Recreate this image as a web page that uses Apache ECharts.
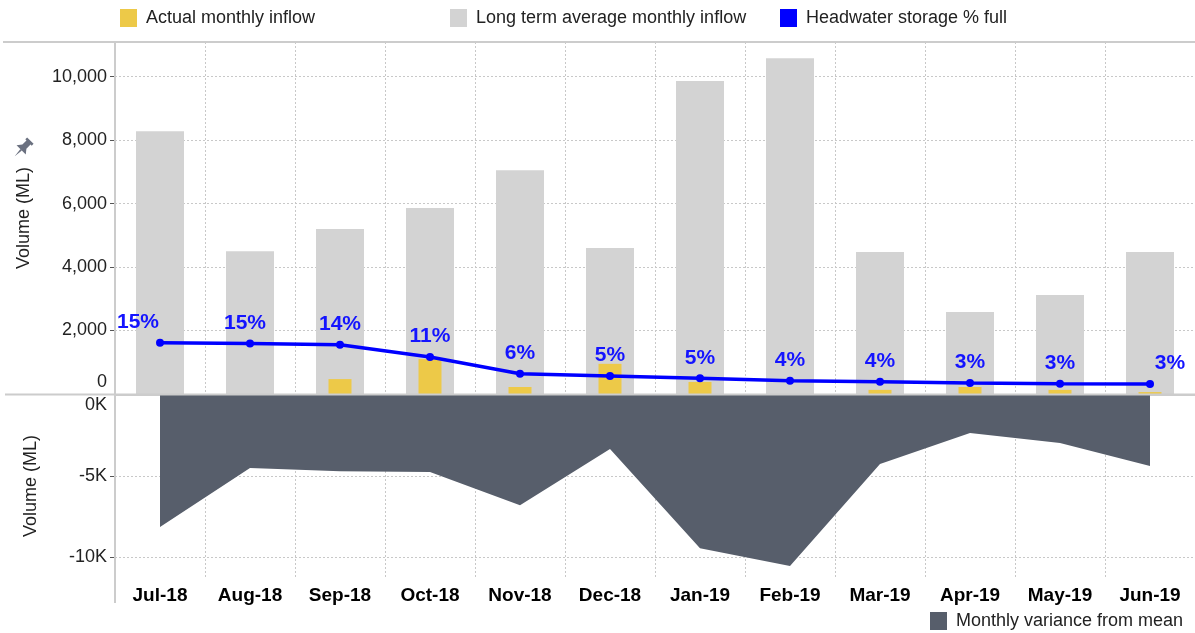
<!DOCTYPE html>
<html>
<head>
<meta charset="utf-8">
<script src="https://cdn.jsdelivr.net/npm/echarts@6/dist/echarts.min.js"></script>
<style>
  html, body { margin: 0; padding: 0; background: #fff; }
  #chart { width: 1195px; height: 633px; }
</style>
</head>
<body>
<div id="chart"></div>
<script>
// months shown on the x axis
const categories = ['Jul-18', 'Aug-18', 'Sep-18', 'Oct-18', 'Nov-18', 'Dec-18',
  'Jan-19', 'Feb-19', 'Mar-19', 'Apr-19', 'May-19', 'Jun-19'];
// ML
const actualInflow = [0, 0, 470, 1100, 220, 950, 380, 0, 130, 220, 130, 60];
const longTermAvg = [8280, 4500, 5200, 5860, 7050, 4600, 9860, 10580, 4470, 2580, 3120, 4470];
const variance = [-8150, -4500, -4700, -4750, -6800, -3330, -9450, -10550, -4260, -2350, -2960, -4380];
// headwater storage, % full
const storagePct = [15.0, 14.8, 14.4, 10.8, 5.9, 5.3, 4.6, 3.9, 3.6, 3.2, 3.0, 2.9];
// tick labels
const volumeTicks = [0, 2000, 4000, 6000, 8000, 10000];
const varianceTicks = [0, -5000, -10000];

const FONT = 'Arial, "Liberation Sans", sans-serif';
const GRID_LINE = { color: '#c8c8c8', type: [2, 2], width: 1 };
const FRAME = '#cccccc';
const TXT = '#222';

let chart = echarts.init(document.getElementById('chart'));

const legendBase = {
  icon: 'rect', itemWidth: 17, itemHeight: 18, itemGap: 0, padding: 0,
  textStyle: { fontSize: 18, color: TXT, fontFamily: FONT, padding: [0, 0, 0, 4] }
};

chart.setOption({
  animation: false,
  textStyle: { fontFamily: FONT },
  grid: [
    { left: 115, right: 0, top: 42, height: 352 },
    { left: 115, right: 0, top: 395, height: 182 }
  ],
  legend: [
    Object.assign({ data: ['Actual monthly inflow'], left: 120, top: 9 }, legendBase),
    Object.assign({ data: ['Long term average monthly inflow'], left: 450, top: 9 }, legendBase),
    Object.assign({ data: ['Headwater storage % full'], left: 780, top: 9 }, legendBase),
    Object.assign({ data: ['Monthly variance from mean'], left: 930, top: 612 }, legendBase)
  ],
  xAxis: [
    {
      gridIndex: 0, type: 'category', data: categories,
      axisLine: { show: false }, axisTick: { show: false }, axisLabel: { show: false },
      splitLine: { show: true, lineStyle: GRID_LINE }
    },
    { gridIndex: 0, type: 'category', data: categories, show: false },
    {
      gridIndex: 1, type: 'category', data: categories, position: 'bottom',
      axisLine: { lineStyle: { color: FRAME, width: 2 } },
      axisTick: { length: 7, lineStyle: { color: '#bbb', type: [2, 2] } },
      axisLabel: { color: '#000', fontWeight: 'bold', fontSize: 19, margin: 9 },
      splitLine: { show: true, lineStyle: GRID_LINE }
    }
  ],
  yAxis: [
    {
      gridIndex: 0, type: 'value', min: 0, max: 11090,
      name: 'Volume (ML)', nameLocation: 'middle', nameGap: 82,
      nameTextStyle: { fontSize: 18, color: TXT },
      axisLine: { show: false },
      axisTick: { show: true, length: 5, customValues: volumeTicks.slice(1), lineStyle: { color: '#555' } },
      axisLabel: {
        customValues: volumeTicks, fontSize: 18, color: TXT, margin: 8,
        formatter: (v) => v === 0 ? '{z|0}' : v.toLocaleString('en-US'),
        rich: { z: { fontSize: 18, color: TXT, padding: [0, 0, 24, 0] } }
      },
      splitLine: { show: true, lineStyle: GRID_LINE }
    },
    { gridIndex: 0, type: 'value', min: 0, max: 103, show: false },
    {
      gridIndex: 1, type: 'value', min: -11230, max: 0,
      name: 'Volume (ML)', nameLocation: 'middle', nameGap: 75,
      nameTextStyle: { fontSize: 18, color: TXT },
      axisLine: { show: false },
      axisTick: { show: true, length: 5, customValues: varianceTicks.slice(1), lineStyle: { color: '#555' } },
      axisLabel: {
        customValues: varianceTicks, fontSize: 18, color: TXT, margin: 8,
        formatter: (v) => v === 0 ? '{z|0K}' : (v / 1000) + 'K',
        rich: { z: { fontSize: 18, color: TXT, padding: [20, 0, 0, 0] } }
      },
      splitLine: { show: true, lineStyle: GRID_LINE }
    }
  ],
  graphic: [
    { type: 'line', z: 100, shape: { x1: 3, y1: 42, x2: 1195, y2: 42 }, style: { stroke: FRAME, lineWidth: 2 } },
    { type: 'line', z: 100, shape: { x1: 5, y1: 394.5, x2: 1195, y2: 394.5 }, style: { stroke: FRAME, lineWidth: 2 } },
    { type: 'line', z: 100, shape: { x1: 115, y1: 42, x2: 115, y2: 603 }, style: { stroke: FRAME, lineWidth: 2 } },
    // pin icon next to the axis title
    {
      type: 'group', x: 23, y: 148, rotation: -Math.PI / 4, scaleX: 1.3, scaleY: 1.3,
      children: [
        {
          type: 'polygon',
          shape: { points: [[-3.5, -8], [3.5, -8], [3.5, -6], [2.2, -6], [2.2, -1.5], [5, 2], [-5, 2], [-2.2, -1.5], [-2.2, -6], [-3.5, -6]] },
          style: { fill: '#6b7180' }
        },
        { type: 'polygon', shape: { points: [[-0.8, 2], [0.8, 2], [0, 9]] }, style: { fill: '#6b7180' } }
      ]
    }
  ],
  series: [
    {
      name: 'Long term average monthly inflow', type: 'bar',
      xAxisIndex: 0, yAxisIndex: 0, barWidth: 48,
      itemStyle: { color: '#d3d3d3' }, data: longTermAvg
    },
    {
      name: 'Actual monthly inflow', type: 'bar',
      xAxisIndex: 1, yAxisIndex: 0, barWidth: 23,
      itemStyle: { color: '#edc948' }, data: actualInflow
    },
    {
      name: 'Headwater storage % full', type: 'line',
      xAxisIndex: 0, yAxisIndex: 1, z: 5,
      symbol: 'circle', symbolSize: 8,
      lineStyle: { color: '#0000ff', width: 3.5 },
      itemStyle: { color: '#0000ff' },
      label: {
        show: true, position: 'top', distance: 6,
        color: '#1414ff', fontWeight: 'bold', fontSize: 21,
        formatter: (p) => Math.round(p.value) + '%'
      },
      data: storagePct.map((v, i) => ({
        value: v,
        label: { offset: i === 0 ? [-22, 0] : i === storagePct.length - 1 ? [20, 0] : i === 1 ? [-5, 0] : [0, 0] }
      }))
    },
    {
      name: 'Monthly variance from mean', type: 'line',
      xAxisIndex: 2, yAxisIndex: 2,
      symbol: 'none', lineStyle: { width: 0 },
      itemStyle: { color: '#575e6b' },
      areaStyle: { color: '#575e6b', opacity: 1 },
      data: variance
    }
  ]
});
</script>
</body>
</html>
